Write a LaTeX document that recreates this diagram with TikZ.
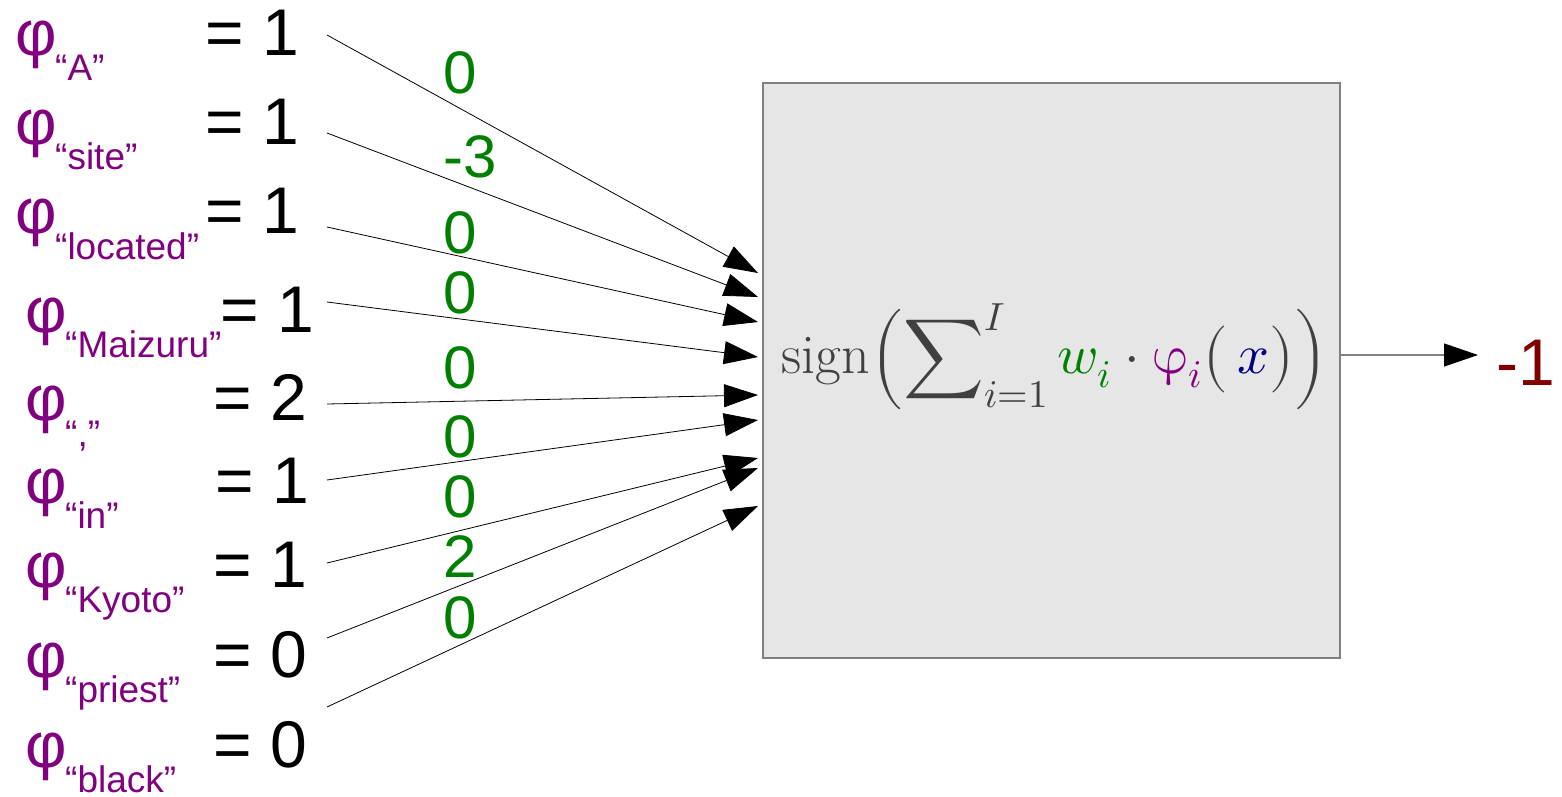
\documentclass[tikz,border=0pt]{standalone}
\usepackage{fontspec}
\usepackage{unicode-math}
\setmathfont{Latin Modern Math}
\newfontfamily\labelfont{Liberation Sans}
\usetikzlibrary{arrows.meta, positioning}
\definecolor{phipurple}{RGB}{128, 0, 128}
\definecolor{wgreen}{RGB}{0, 128, 0}
\definecolor{xnavy}{RGB}{0, 0, 128}
\definecolor{outred}{RGB}{128, 0, 0}
\definecolor{formgray}{RGB}{64, 64, 64}
\definecolor{boxgray}{RGB}{230, 230, 230}
\definecolor{edgegray}{RGB}{128, 128, 128}

\begin{document}
\begin{tikzpicture}[
    x=1pt, y=1pt,
    feat/.style={text=phipurple, font=\labelfont\fontsize{64}{70}\selectfont, anchor=base west, inner sep=0pt},
    featsub/.style={text=phipurple, font=\labelfont\fontsize{37}{40}\selectfont, anchor=base west, inner sep=0pt},
    val/.style={font=\labelfont\fontsize{66}{72}\selectfont, anchor=base west, inner sep=0pt},
    weight/.style={text=wgreen, font=\labelfont\fontsize{60}{66}\selectfont, inner sep=0pt},
    box/.style={draw=edgegray, line width=1.2pt, fill=boxgray, minimum width=577pt, minimum height=575pt, inner sep=0pt},
    formula/.style={text=formgray, font=\fontsize{56}{62}\selectfont, inner sep=0pt},
    result/.style={text=outred, font=\labelfont\fontsize{66}{72}\selectfont, anchor=base west, inner sep=0pt},
    arrow/.style={-{Triangle[length=34pt, width=23pt]}, line width=0.8pt},
    outarrow/.style={-{Triangle[length=34pt, width=23pt, color=black]}, line width=1.2pt, draw=edgegray}
]
    \useasboundingbox (0,0) rectangle (1562,-797);

    % feature values
    \node[feat] (phiA) at (15,-56) {φ};
    \node[featsub] (subA) at (55,-81) {“A”};
    \node[val] (valA) at (205,-56) {= 1};
    \node[feat] (phiSite) at (15,-144) {φ};
    \node[featsub] (subSite) at (55,-169) {“site”};
    \node[val] (valSite) at (205,-144) {= 1};
    \node[feat] (phiLocated) at (15,-233) {φ};
    \node[featsub] (subLocated) at (55,-259) {“located”};
    \node[val] (valLocated) at (205,-233) {= 1};
    \node[feat] (phiMaizuru) at (25,-332) {φ};
    \node[featsub] (subMaizuru) at (65,-357) {“Maizuru”};
    \node[val] (valMaizuru) at (220,-332) {= 1};
    \node[feat] (phiComma) at (25,-420) {φ};
    \node[featsub] (subComma) at (65,-446) {“,”};
    \node[val] (valComma) at (213,-420) {= 2};
    \node[feat] (phiIn) at (25,-503) {φ};
    \node[featsub] (subIn) at (65,-528) {“in”};
    \node[val] (valIn) at (215,-503) {= 1};
    \node[feat] (phiKyoto) at (25,-587) {φ};
    \node[featsub] (subKyoto) at (65,-612) {“Kyoto”};
    \node[val] (valKyoto) at (213,-587) {= 1};
    \node[feat] (phiPriest) at (25,-677) {φ};
    \node[featsub] (subPriest) at (65,-702) {“priest”};
    \node[val] (valPriest) at (213,-677) {= 0};
    \node[feat] (phiBlack) at (25,-767) {φ};
    \node[featsub] (subBlack) at (65,-792) {“black”};
    \node[val] (valBlack) at (213,-767) {= 0};

    % weights
    \node[weight] (wA) at (460,-73) {0};
    \node[weight] (wSite) at (470,-157) {-3};
    \node[weight] (wLocated) at (460,-233) {0};
    \node[weight] (wMaizuru) at (460,-293) {0};
    \node[weight] (wComma) at (460,-368) {0};
    \node[weight] (wIn) at (460,-437) {0};
    \node[weight] (wKyoto) at (460,-497) {0};
    \node[weight] (wPriest) at (460,-557) {2};
    \node[weight] (wBlack) at (460,-618) {0};

    % unit
    \node[box] (unit) at (1051.5,-370.5) {};
    \node[formula] (sum) at (1055,-357) {$\mathrm{sign}\Bigl(\displaystyle\sum\nolimits_{i=1}^{I} {\color{wgreen}w_{i}}\cdot{\color{phipurple}\upvarphi_{i}}\bigl(\,{\color{xnavy}x}\bigr)\Bigr)$};
    \node[result] (res) at (1496,-385) {-1};

    \coordinate (sA) at (327,-35);       \coordinate (tA) at (758,-273);
    \coordinate (sSite) at (327,-133);   \coordinate (tSite) at (758,-297);
    \coordinate (sLocated) at (327,-227); \coordinate (tLocated) at (758,-322);
    \coordinate (sMaizuru) at (327,-302); \coordinate (tMaizuru) at (758,-357);
    \coordinate (sComma) at (327,-404);  \coordinate (tComma) at (758,-395);
    \coordinate (sIn) at (327,-480);     \coordinate (tIn) at (758,-420);
    \coordinate (sKyoto) at (327,-563);  \coordinate (tKyoto) at (758,-458);
    \coordinate (sPriest) at (327,-638); \coordinate (tPriest) at (758,-468);
    \coordinate (sBlack) at (327,-707);  \coordinate (tBlack) at (758,-506);
    \coordinate (tOut) at (1478,-355);

    \draw[arrow] (sA) -- (tA);
    \draw[arrow] (sSite) -- (tSite);
    \draw[arrow] (sLocated) -- (tLocated);
    \draw[arrow] (sMaizuru) -- (tMaizuru);
    \draw[arrow] (sComma) -- (tComma);
    \draw[arrow] (sIn) -- (tIn);
    \draw[arrow] (sKyoto) -- (tKyoto);
    \draw[arrow] (sPriest) -- (tPriest);
    \draw[arrow] (sBlack) -- (tBlack);
    \draw[outarrow] (unit.east |- tOut) -- (tOut);
\end{tikzpicture}
\end{document}
